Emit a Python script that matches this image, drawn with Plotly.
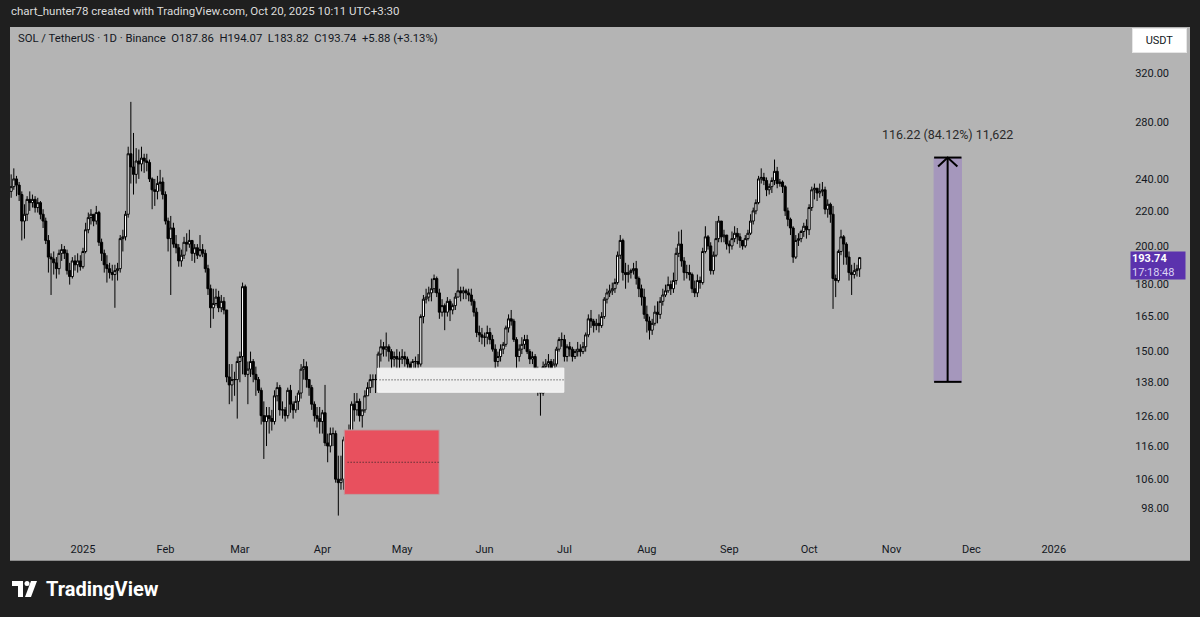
import numpy as np
import pandas as pd
import plotly.graph_objects as go

# ---------------- data (SOL/USDT daily, 2024-12-05 .. 2025-10-20) ----------------
start_date = "2024-12-05"
end_date = "2025-10-20"
first_open = 232.0

close_dec = [235, 240, 236, 230, 214, 218, 227, 225, 227, 222, 225, 218, 214, 203, 194, 193, 191, 188, 196, 198, 196, 187, 184, 192, 190, 192, 189]
high_dec = [243, 247, 242, 238, 232, 224, 229, 232, 230, 229, 228, 226, 221, 216, 206, 196, 197, 194, 198, 201, 200, 198, 191, 194, 195, 196, 195]
low_dec = [228, 233, 229, 226, 203, 204, 214, 220, 222, 219, 219, 215, 210, 201, 186, 175, 185, 183, 185, 192, 193, 185, 180, 183, 187, 186, 187]

close_jan = [197, 209, 216, 218, 214, 219, 202, 196, 190, 188, 186, 185, 187, 188, 204, 205, 218, 257, 248, 243, 252, 250, 254, 252, 251, 240, 233, 232, 237, 238, 230]
high_jan = [199, 213, 219, 221, 218, 223, 220, 204, 198, 195, 191, 190, 190, 191, 206, 209, 220, 262, 296, 272, 261, 260, 262, 257, 257, 253, 241, 240, 242, 246, 241]
low_jan = [188, 196, 207, 212, 211, 212, 200, 192, 186, 181, 183, 182, 169, 182, 186, 197, 203, 216, 237, 230, 237, 240, 245, 244, 245, 238, 221, 223, 227, 232, 227]

close_feb = [214, 204, 210, 201, 199, 192, 195, 202, 201, 203, 196, 199, 195, 198, 196, 188, 178, 169, 171, 174, 169, 172, 168, 140, 137, 139, 139, 146]
high_feb = [232, 216, 217, 213, 206, 201, 198, 205, 207, 209, 203, 201, 201, 206, 201, 198, 190, 180, 178, 178, 177, 175, 174, 168, 145, 145, 142, 148]
low_feb = [212, 197, 175, 199, 196, 189, 189, 193, 197, 199, 192, 191, 193, 194, 194, 186, 175, 160, 164, 170, 167, 167, 166, 138, 130, 131, 133, 125]

close_mar = [148, 179, 141, 143, 146, 141, 139, 135, 126, 124, 126, 125, 124, 133, 136, 128, 128, 126, 135, 130, 128, 131, 134, 143, 144, 139, 136, 130, 126, 125, 124]
high_mar = [150, 181, 180, 146, 150, 147, 144, 140, 136, 131, 129, 129, 128, 135, 138, 137, 131, 129, 136, 137, 131, 133, 135, 145, 147, 146, 139, 137, 131, 129, 129]
low_mar = [138, 141, 140, 130, 140, 138, 133, 134, 123, 112, 116, 120, 121, 123, 131, 126, 125, 124, 125, 127, 125, 127, 128, 132, 139, 136, 133, 128, 124, 122, 120]

close_apr = [127, 117, 116, 120, 120, 106, 105, 106, 118, 114, 121, 130, 128, 131, 126, 128, 133, 136, 139, 139, 139, 149, 152, 151, 152, 150, 147, 148, 147, 147]
high_apr = [128, 137, 120, 122, 122, 121, 113, 113, 119, 120, 123, 131, 134, 134, 132, 128, 135, 138, 141, 141, 141, 150, 155, 154, 158, 153, 151, 150, 151, 150]
low_apr = [120, 116, 111, 114, 116, 105, 96, 103, 103, 111, 113, 120, 124, 126, 124, 122, 127, 133, 134, 136, 134, 137, 146, 148, 148, 146, 143, 144, 143, 141]

close_may = [148, 147, 145, 143, 146, 146, 145, 165, 173, 174, 176, 178, 183, 176, 167, 170, 167, 172, 168, 170, 174, 177, 176, 177, 176, 175, 172, 167, 158, 157, 156]
high_may = [151, 150, 148, 146, 147, 148, 149, 166, 175, 178, 179, 183, 185, 184, 178, 173, 171, 174, 173, 171, 176, 188, 179, 179, 178, 178, 178, 173, 169, 161, 160]
low_may = [145, 144, 142, 141, 142, 143, 143, 144, 162, 171, 172, 172, 176, 174, 164, 165, 159, 165, 163, 166, 168, 174, 172, 173, 173, 172, 170, 165, 156, 154, 153]

close_jun = [156, 158, 155, 151, 146, 148, 151, 153, 160, 164, 163, 155, 148, 151, 153, 155, 150, 147, 148, 142, 137, 134, 144, 145, 146, 141, 145, 151, 155, 155]
high_jun = [158, 161, 160, 157, 153, 150, 153, 154, 161, 166, 168, 164, 156, 153, 156, 157, 157, 151, 150, 149, 144, 138, 146, 147, 149, 147, 147, 152, 156, 158]
low_jun = [152, 153, 153, 150, 143, 144, 146, 149, 152, 158, 161, 154, 140, 146, 149, 151, 149, 145, 145, 140, 133, 126, 133, 141, 143, 139, 140, 144, 150, 152]

close_jul = [148, 152, 151, 148, 150, 151, 150, 152, 157, 164, 163, 161, 162, 161, 165, 173, 176, 177, 178, 181, 195, 203, 186, 185, 186, 187, 188, 183, 178, 174, 166]
high_jul = [157, 153, 154, 152, 151, 154, 153, 154, 158, 166, 168, 164, 164, 166, 167, 174, 178, 180, 181, 183, 197, 206, 204, 191, 190, 188, 191, 192, 184, 180, 178]
low_jul = [146, 146, 148, 146, 147, 148, 148, 149, 150, 156, 160, 158, 159, 158, 160, 164, 171, 174, 175, 176, 180, 193, 182, 178, 181, 183, 185, 180, 174, 170, 164]

close_aug = [163, 159, 162, 167, 166, 172, 175, 177, 180, 178, 182, 196, 201, 192, 186, 186, 185, 178, 176, 182, 181, 197, 205, 200, 187, 195, 204, 214, 205, 206, 201]
high_aug = [170, 165, 164, 170, 172, 174, 178, 180, 184, 182, 186, 199, 208, 209, 194, 190, 190, 186, 182, 185, 184, 199, 211, 206, 202, 197, 214, 217, 214, 209, 206]
low_aug = [158, 155, 157, 161, 162, 164, 170, 174, 176, 175, 176, 180, 194, 189, 182, 183, 182, 176, 174, 174, 178, 180, 196, 198, 185, 185, 194, 202, 202, 202, 198]

close_sep = [200, 204, 207, 205, 203, 200, 204, 207, 214, 220, 225, 240, 241, 239, 233, 235, 239, 245, 237, 238, 235, 220, 215, 210, 194, 203, 204, 208, 211, 209]
high_sep = [203, 208, 211, 210, 207, 203, 206, 209, 218, 222, 227, 242, 247, 244, 241, 237, 241, 253, 248, 240, 239, 236, 222, 216, 211, 206, 207, 209, 213, 215]
low_sep = [196, 198, 202, 201, 199, 198, 199, 203, 206, 212, 218, 224, 237, 236, 229, 230, 231, 236, 234, 235, 231, 217, 211, 206, 191, 193, 200, 202, 205, 204]

close_oct = [222, 233, 234, 231, 232, 233, 221, 224, 218, 183, 182, 197, 205, 201, 194, 186, 185, 187, 187.86, 193.74]
high_oct = [224, 235, 237, 234, 237, 238, 235, 227, 225, 223, 185, 198, 209, 206, 202, 197, 190, 191, 190, 194.07]
low_oct = [206, 220, 227, 226, 228, 229, 218, 216, 213, 168.5, 174, 181, 195, 190, 190, 182, 175, 183, 184, 183.82]

# axis ticks
month_ticks = ["2025-01-01", "2025-02-01", "2025-03-01", "2025-04-01", "2025-05-01", "2025-06-01",
               "2025-07-01", "2025-08-01", "2025-09-01", "2025-10-01", "2025-11-01", "2025-12-01", "2026-01-01"]
month_labels = ["2025", "Feb", "Mar", "Apr", "May", "Jun", "Jul", "Aug", "Sep", "Oct", "Nov", "Dec", "2026"]
price_ticks = [98, 106, 116, 126, 138, 150, 165, 180, 200, 220, 240, 280, 320]
price_labels = [f"{v:.2f}" for v in price_ticks]

# drawings (anchor dates / prices)
red_zone = {"x0": "2025-04-09 05:00", "x1": "2025-05-14 22:00", "y0": 101.7, "y1": 121.2, "mid": 111.0,
            "mid_x0": "2025-04-10 12:00"}
white_zone = {"x0": "2025-04-21 19:00", "x1": "2025-06-30 19:00", "y0": 134.3, "y1": 143.4, "mid": 138.9,
              "mid_x0": "2025-04-22 12:00"}
measure = {"x0": "2025-11-17", "x1": "2025-11-27 07:00", "xc": "2025-11-22 02:00",
           "bottom": 138.15, "top": 254.37, "head_l": "2025-11-18 12:00", "head_r": "2025-11-25 18:00",
           "head_y": 248.2, "label": "116.22 (84.12%) 11,622"}

# ---------------- build ----------------
dates = pd.date_range(start_date, end_date, freq="D")
close = close_dec + close_jan + close_feb + close_mar + close_apr + close_may + close_jun + close_jul + close_aug + close_sep + close_oct
high = high_dec + high_jan + high_feb + high_mar + high_apr + high_may + high_jun + high_jul + high_aug + high_sep + high_oct
low = low_dec + low_jan + low_feb + low_mar + low_apr + low_may + low_jun + low_jul + low_aug + low_sep + low_oct
opn = [first_open] + close[:-1]
high = [max(h, o, c) for h, o, c in zip(high, opn, close)]
low = [min(l, o, c) for l, o, c in zip(low, opn, close)]

W, H = 1200, 617
L, R, T, B = 10, 10, 27, 57
PW, PH = W - L - R, H - T - B


def px(x):
    return (x - L) / PW


def py(y):
    return (H - B - y) / PH


BG = "#1f1f1f"
PANE = "#b4b4b4"
TXT = "#131722"
DOT = "1px,2px"

fig = go.Figure()


def rect_trace(x0, x1, y0, y1, fill, line):
    return go.Scatter(x=[x0, x1, x1, x0, x0], y=[y0, y0, y1, y1, y0], mode="lines",
                      fill="toself", fillcolor=fill, line=dict(color=line, width=1),
                      hoverinfo="skip", showlegend=False)


fig.add_trace(rect_trace(white_zone["x0"], white_zone["x1"], white_zone["y0"], white_zone["y1"], "#efefef", "#f6f6f6"))
fig.add_trace(go.Scatter(x=[white_zone["mid_x0"], white_zone["x1"]], y=[white_zone["mid"]] * 2, mode="lines",
                         line=dict(color="#222222", width=1, dash=DOT), hoverinfo="skip", showlegend=False))
fig.add_trace(rect_trace(red_zone["x0"], red_zone["x1"], red_zone["y0"], red_zone["y1"], "#e8505e", "#b9a0a3"))
fig.add_trace(go.Scatter(x=[red_zone["mid_x0"], red_zone["x1"]], y=[red_zone["mid"]] * 2, mode="lines",
                         line=dict(color="#222222", width=1, dash=DOT), hoverinfo="skip", showlegend=False))

fig.add_trace(go.Candlestick(
    x=dates, open=opn, high=high, low=low, close=close,
    increasing=dict(line=dict(color="#000000", width=1), fillcolor="#ffffff"),
    decreasing=dict(line=dict(color="#000000", width=1), fillcolor="#000000"),
    whiskerwidth=0, showlegend=False, hoverinfo="skip"))

# measure tool
fig.add_trace(rect_trace(measure["x0"], measure["x1"], measure["bottom"], measure["top"], "#a597bc", "#a597bc"))
for yy in (measure["bottom"], measure["top"]):
    fig.add_trace(go.Scatter(x=[measure["x0"], measure["x1"]], y=[yy, yy], mode="lines",
                             line=dict(color="#000000", width=2), hoverinfo="skip", showlegend=False))
fig.add_trace(go.Scatter(x=[measure["xc"], measure["xc"]], y=[measure["bottom"], measure["top"]], mode="lines",
                         line=dict(color="#000000", width=2), hoverinfo="skip", showlegend=False))
fig.add_trace(go.Scatter(x=[measure["head_l"], measure["xc"], measure["head_r"]],
                         y=[measure["head_y"], measure["top"], measure["head_y"]], mode="lines",
                         line=dict(color="#000000", width=2), hoverinfo="skip", showlegend=False))

annotations = [
    dict(x=measure["xc"], y=np.log10(measure["top"]), xref="x", yref="y", text=measure["label"],
         showarrow=False, yanchor="bottom", yshift=14, font=dict(size=12.5, color="#2a2a2a", family="Roboto")),
    dict(x=px(9), y=py(11), xref="paper", yref="paper", xanchor="left", yanchor="middle", showarrow=False,
         text="chart_hunter78 created with TradingView.com, Oct 20, 2025 10:11 UTC+3:30",
         font=dict(size=11.5, color="#dcdcdc", family="Roboto")),
    dict(x=px(16), y=py(39), xref="paper", yref="paper", xanchor="left", yanchor="middle", showarrow=False,
         text="SOL / TetherUS · 1D · Binance\u00a0\u00a0O187.86\u00a0\u00a0H194.07\u00a0\u00a0L183.82\u00a0\u00a0C193.74\u00a0\u00a0+5.88 (+3.13%)",
         font=dict(size=11.3, color=TXT, family="Roboto")),
    dict(x=px(1132), y=py(41), xref="paper", yref="paper", xanchor="left", yanchor="middle", showarrow=False,
         text="USDT", width=51, height=21, bgcolor="#ffffff", bordercolor="#e6e6e6", borderwidth=1,
         font=dict(size=11, color=TXT, family="Roboto")),
    dict(x=px(1130), y=py(265), xref="paper", yref="paper", xanchor="left", yanchor="middle", showarrow=False,
         text="<b>193.74</b><br><span style='color:#ddd4f5'>17:18:48</span>", align="left",
         width=52, height=25, borderpad=1, bgcolor="#5b32ad",
         font=dict(size=11, color="#ffffff", family="Roboto")),
    dict(x=px(44), y=py(589), xref="paper", yref="paper", xanchor="left", yanchor="middle", showarrow=False,
         text="<b>TradingView</b>", font=dict(size=20, color="#ffffff", family="Roboto")),
]

# TradingView logo glyph
logo_shapes = [
    dict(type="path", xref="paper", yref="paper", fillcolor="#ffffff", line=dict(width=0),
         path=f"M {px(12)} {py(581)} L {px(23)} {py(581)} L {px(23)} {py(597)} L {px(18)} {py(597)} "
              f"L {px(18)} {py(586)} L {px(12)} {py(586)} Z"),
    dict(type="circle", xref="paper", yref="paper", fillcolor="#ffffff", line=dict(width=0),
         x0=px(24.5), x1=px(29.5), y0=py(581), y1=py(586)),
    dict(type="path", xref="paper", yref="paper", fillcolor="#ffffff", line=dict(width=0),
         path=f"M {px(31)} {py(581)} L {px(37)} {py(581)} L {px(31)} {py(597)} L {px(25)} {py(597)} Z"),
]

fig.update_layout(
    width=W, height=H,
    margin=dict(l=L, r=R, t=T, b=B, pad=0),
    paper_bgcolor=BG, plot_bgcolor=PANE,
    showlegend=False,
    boxgap=0.2, boxgroupgap=0,
    annotations=annotations,
    shapes=logo_shapes,
    font=dict(family="Roboto", color=TXT),
    xaxis=dict(type="date", range=["2024-12-04 13:30", "2026-02-21 05:00"],
               rangeslider=dict(visible=False), showgrid=False, zeroline=False,
               tickmode="array", tickvals=month_ticks, ticktext=month_labels,
               ticklabelposition="inside", ticks="", ticklabelstandoff=4,
               tickfont=dict(size=11, color=TXT),
               showline=True, linecolor="#8c8c8c", linewidth=1, fixedrange=True),
    yaxis=dict(type="log", range=[np.log10(85.07), np.log10(362.9)], side="right",
               showgrid=False, zeroline=False, tickmode="array", tickvals=price_ticks,
               ticktext=price_labels, ticklabelposition="inside", ticks="",
               ticklabelstandoff=18, tickfont=dict(size=11, color=TXT), fixedrange=True),
)

fig.write_html("out.html", config={"displayModeBar": False})
